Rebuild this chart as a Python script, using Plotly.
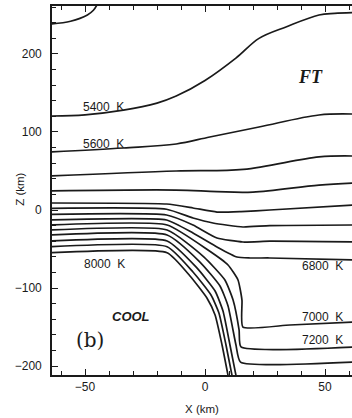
import plotly.graph_objects as go

# Temperature contour levels (K) and their traced paths in the X-Z plane (km)
levels = [5200, 5400, 5600, 5800, 6000, 6200, 6400, 6600, 6800,
          7000, 7200, 7400, 7600, 7800, 8000]

x5200 = [-64, -56, -49, -46.5, -45]
z5200 = [238.5, 242, 250, 256, 263]

x5400 = [-64, -50, -34, -20, -12, 0, 13, 22.5, 34, 47.5, 54, 62]
z5400 = [120.5, 122, 128, 137, 146, 166, 195, 220, 235, 250, 252, 253]

x5600 = [-64, -34, -12, 2, 22.5, 47.5, 62]
z5600 = [74.5, 79.5, 84.6, 93.6, 106.4, 121.8, 123]

x5800 = [-64, -12, 16, 47.5, 62]
z5800 = [43.6, 50, 52, 68, 69.2]

x6000 = [-64, -12, 5, 20, 47.5, 62]
z6000 = [24.4, 25.6, 23.5, 23, 32, 34.6]

x6200 = [-64, -16, -5, 5, 15, 27, 62]
z6200 = [9, 7.7, 2.6, -2.6, -2, 0, 6.4]

x6400 = [-64, -16, -5, 3.3, 15.8, 27, 62]
z6400 = [2.2, 1, -10.3, -16.7, -21.8, -20, -19.2]

x6600 = [-64, -16, -5, 5, 15.8, 27, 62]
z6600 = [-5.5, -6.4, -19.2, -35.9, -41, -40, -41]

x6800 = [-64, -16, -5, 5, 13.3, 18.75, 27, 62]
z6800 = [-12.8, -12.8, -29.5, -47.4, -60.3, -61.5, -61.5, -64]

x7000 = [-64, -15.8, 1.25, 9.6, 13.75, 15.4, 15.8, 35.4, 62]
z7000 = [-19.2, -19.2, -51.3, -70.5, -89.7, -115.4, -150, -147.4, -143.6]

x7200 = [-64, -15.8, -0.4, 8.3, 11.7, 14.2, 15, 62]
z7200 = [-25.6, -25.6, -60.3, -89.7, -115.4, -153.8, -175.6, -175.6]

x7400 = [-64, -15.8, -2.1, 6.25, 9.6, 12.9, 14.8, 62]
z7400 = [-32, -32, -66.7, -97.4, -123, -173, -194.9, -194.9]

x7600 = [-64, -15.8, -3.75, 4.2, 7.5, 10.4, 12.9]
z7600 = [-39.7, -39.7, -73, -103.8, -129.5, -173, -212]

x7800 = [-64, -15.8, -5, 2.5, 5.8, 8.75, 11.25]
z7800 = [-47, -47, -79.5, -109, -132, -173, -212]

x8000 = [-64, -15.8, -6.25, 0.8, 4.2, 7.1, 9.6]
z8000 = [-54.7, -54.7, -84.6, -112.8, -134.6, -173, -212]

paths = [(x5200, z5200), (x5400, z5400), (x5600, z5600), (x5800, z5800),
         (x6000, z6000), (x6200, z6200), (x6400, z6400), (x6600, z6600),
         (x6800, z6800), (x7000, z7000), (x7200, z7200), (x7400, z7400),
         (x7600, z7600), (x7800, z7800), (x8000, z8000)]

# Contour labels: level, x, z
label_levels = [5400, 5600, 8000, 6800, 7000, 7200]
label_x = [-42.5, -42.5, -41.7, 48.8, 48.8, 48.8]
label_z = [132, 84.6, -69, -72, -137, -166.7]

ink = "#1a1a1a"
fig = go.Figure()
for lev, (xs, zs) in zip(levels, paths):
    smooth = 1.0 if lev <= 6000 else 0.5
    fig.add_trace(go.Scatter(x=xs, y=zs, mode="lines", name=f"{lev} K",
                             line=dict(color=ink, width=1.7, shape="spline",
                                       smoothing=smooth),
                             hoverinfo="skip", showlegend=False))

for lev, lx, lz in zip(label_levels, label_x, label_z):
    fig.add_annotation(x=lx, y=lz, text=f"{lev}\u00a0\u00a0K", showarrow=False,
                       font=dict(family="Liberation Sans", size=12, color=ink))

fig.add_annotation(x=44, y=170, text="<b><i>FT</i></b>", showarrow=False,
                   font=dict(family="Liberation Serif", size=18, color=ink))
fig.add_annotation(x=-31, y=-137, text="<b><i>COOL</i></b>", showarrow=False,
                   font=dict(family="Liberation Sans", size=13, color=ink))
fig.add_annotation(x=-48, y=-167, text="(b)", showarrow=False,
                   font=dict(family="DejaVu Serif", size=20, color=ink))

# Vertical axis title placed beside the tick labels
fig.add_annotation(xref="paper", x=-0.107, xanchor="center", y=27,
                   yanchor="middle", text="Z (km)",
                   textangle=-90, showarrow=False,
                   font=dict(family="Liberation Sans", size=11.5, color=ink))

fig.update_layout(
    width=352, height=418,
    margin=dict(l=52, r=0, t=6, b=43),
    paper_bgcolor="white", plot_bgcolor="white",
    font=dict(family="Liberation Sans", size=12, color=ink),
    xaxis=dict(range=[-63.75, 61.25], tickvals=[-50, 0, 50],
               ticktext=["\u221250", "0", "50"],
               ticks="inside", ticklen=6, tickwidth=1.3, tickcolor=ink,
               minor=dict(ticks="inside", ticklen=4, dtick=10, tickcolor=ink),
               showline=True, linecolor=ink, linewidth=1.6, mirror="ticks",
               showgrid=False, zeroline=False,
               title=dict(text="X (km)", standoff=12,
                          font=dict(size=11.5))),
    yaxis=dict(range=[-211.5, 261.5], tickvals=[-200, -100, 0, 100, 200],
               ticktext=["\u2212200", "\u2212100", "0", "100", "200"],
               ticks="inside", ticklen=6, tickwidth=1.3, tickcolor=ink,
               ticklabelstandoff=6,
               minor=dict(ticks="inside", ticklen=4, dtick=20, tickcolor=ink),
               showline=True, linecolor=ink, linewidth=1.6,
               showgrid=False, zeroline=False),
)

fig.write_html("out.html")
